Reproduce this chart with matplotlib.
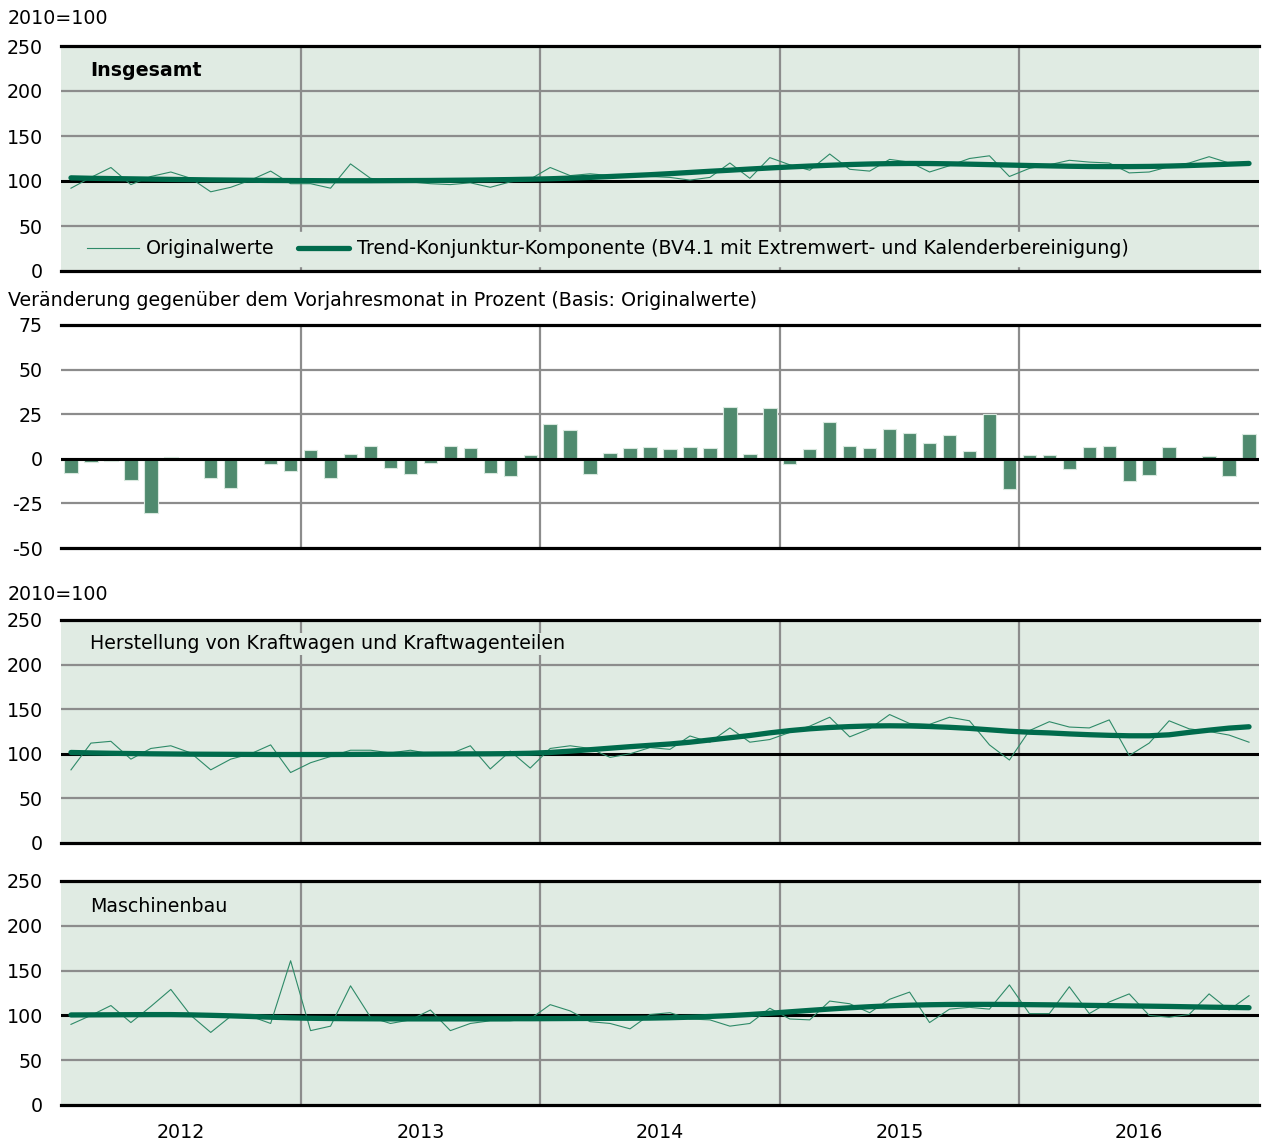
import matplotlib
matplotlib.use("Agg")
import matplotlib.pyplot as plt
from matplotlib.lines import Line2D
import numpy as np

plt.rcParams['font.family'] = ['DejaVu Sans']

years = ['2012', '2013', '2014', '2015', '2016']

orig_total = [
    92, 104, 115, 96, 105, 110, 103, 88, 93, 101, 111, 97,
    97, 92, 119, 103, 100, 99, 97, 96, 98, 93, 99, 102,
    115, 106, 108, 106, 105, 105, 104, 101, 104, 120, 103, 126,
    118, 112, 130, 113, 111, 124, 121, 110, 117, 125, 128, 105,
    114, 118, 123, 121, 120, 109, 110, 116, 120, 127, 120, 119]
trend_total = [
    103.5, 103, 102.7, 102.4, 102.1, 101.8, 101.5, 101.2, 101, 100.8, 100.6, 100.5,
    100.4, 100.3, 100.3, 100.3, 100.4, 100.5, 100.6, 100.8, 101, 101.3, 101.6, 102,
    102.5, 103.2, 104, 105, 106, 107, 108.2, 109.5, 110.8, 112, 113.3, 114.5,
    115.6, 116.6, 117.5, 118.3, 118.9, 119.3, 119.5, 119.4, 119.1, 118.7, 118.2, 117.7,
    117.2, 116.8, 116.4, 116.1, 116, 116, 116.2, 116.6, 117.2, 117.9, 118.7, 119.5]

change_total = [
    -7.8, -1.7, -1.0, -12.0, -30.5, 1.1, 0.0, -10.5, -16.6, 0.0, -3.0, -6.9,
    4.7, -10.8, 2.6, 7.3, -4.9, -8.6, -2.4, 7.3, 6.2, -8.0, -9.7, 2.4,
    19.4, 16.1, -8.6, 3.2, 6.2, 6.5, 5.6, 6.4, 6.2, 29.1, 2.6, 28.6,
    -2.8, 5.4, 20.5, 7.3, 5.8, 16.8, 14.6, 8.6, 13.5, 4.3, 24.9, -17.2,
    2.4, 2.2, -5.6, 6.7, 6.9, -12.3, -9.3, 6.7, 0.0, 1.7, -9.5, 13.8]

orig_kfz = [
    82, 112, 114, 94, 106, 109, 101, 82, 94, 100, 110, 79,
    90, 97, 104, 104, 101, 104, 100, 100, 109, 83, 103, 84,
    106, 109, 106, 96, 100, 107, 105, 120, 113, 129, 113, 116,
    124, 131, 141, 119, 128, 144, 134, 133, 141, 137, 110, 93,
    126, 136, 130, 129, 138, 98, 112, 137, 128, 125, 121, 113]
trend_kfz = [
    101.5, 101, 100.6, 100.3, 100, 99.8, 99.6, 99.5, 99.4, 99.3, 99.2, 99.2,
    99.2, 99.2, 99.3, 99.4, 99.5, 99.6, 99.7, 99.8, 99.9, 100, 100.2, 100.6,
    101.5, 103, 104.6, 106.3, 108, 109.5, 111, 113, 115.5, 118, 120.5, 123.5,
    126, 128, 129.5, 130.5, 131.2, 131.4, 131.2, 130.6, 129.7, 128.5, 126.9, 125.3,
    124.2, 123.4, 122.3, 121.4, 120.7, 120.2, 120.2, 121.3, 124, 126.5, 128.8, 130.3]

orig_masch = [
    90, 100, 111, 92, 110, 129, 100, 81, 99, 99, 91, 161,
    83, 88, 133, 98, 91, 95, 106, 83, 91, 94, 94, 96,
    112, 105, 93, 91, 85, 101, 103, 96, 95, 88, 91, 108,
    96, 95, 116, 113, 103, 118, 126, 92, 107, 109, 107, 134,
    102, 102, 132, 102, 115, 124, 100, 98, 101, 124, 106, 122]
trend_masch = [
    100.5, 100.6, 100.7, 100.8, 100.9, 100.9, 100.6, 100.1, 99.5, 98.8, 98.0, 97.3,
    96.8, 96.5, 96.3, 96.2, 96.1, 96.1, 96.1, 96.1, 96.1, 96.2, 96.3, 96.3,
    96.4, 96.5, 96.6, 96.7, 96.8, 97.0, 97.4, 98.0, 98.8, 99.8, 101.0, 102.4,
    104.0, 105.6, 107.1, 108.5, 109.7, 110.7, 111.4, 111.9, 112.2, 112.3, 112.3, 112.2,
    112.0, 111.8, 111.5, 111.2, 110.9, 110.6, 110.3, 110.0, 109.6, 109.2, 108.9, 108.6]

idx_ticks = [0, 50, 100, 150, 200, 250]
chg_ticks = [-50, -25, 0, 25, 50, 75]

W, H = 1263, 1142
BG = '#e0ebe3'
GRID = '#8c8c8c'
THIN = '#2e8a68'
THICK = '#006b4c'
BAR = '#4f8a6e'
FS = 13.7

fig = plt.figure(figsize=(W / 100, H / 100), dpi=100)


def add_ax(top, bottom):
    return fig.add_axes([61 / W, 1 - bottom / H, 1198 / W, (bottom - top) / H])


x = np.arange(len(orig_total))
year_bounds = [11.5, 23.5, 35.5, 47.5]


def setup(ax, ticks, ref, bg):
    ax.set_facecolor(bg)
    ax.set_xlim(-0.5, 59.5)
    ax.set_ylim(ticks[0], ticks[-1])
    ax.set_yticks(ticks)
    ax.set_yticklabels([str(t) for t in ticks])
    for s in ax.spines.values():
        s.set_visible(False)
    ax.tick_params(axis='y', length=0, pad=13, labelsize=FS)
    ax.tick_params(axis='x', length=0)
    ax.set_xticks([])
    for t in ticks[1:-1]:
        if t != ref:
            ax.axhline(t, color=GRID, lw=1.6, zorder=1)
    for xb in year_bounds:
        ax.axvline(xb, color=GRID, lw=1.6, zorder=1)
    ax.axhline(ticks[0], color='black', lw=2.3, zorder=6, clip_on=False)
    ax.axhline(ticks[-1], color='black', lw=2.3, zorder=6, clip_on=False)
    ax.axhline(ref, color='black', lw=2.2, zorder=2)


# Panel 1
ax1 = add_ax(46, 271)
setup(ax1, idx_ticks, 100, BG)
ax1.plot(x, orig_total, color=THIN, lw=0.8, zorder=3)
ax1.plot(x, trend_total, color=THICK, lw=3.8, zorder=4, solid_capstyle='round')
ax1.text((90 - 61) / 1198, (271 - 71) / 225, 'Insgesamt', transform=ax1.transAxes,
         fontsize=FS, fontweight='bold', va='center', ha='left', zorder=7)
handles = [Line2D([], [], color=THIN, lw=0.8),
           Line2D([], [], color=THICK, lw=3.8, solid_capstyle='round')]
labels = ['Originalwerte',
          'Trend-Konjunktur-Komponente (BV4.1 mit Extremwert- und Kalenderbereinigung)']
leg = ax1.legend(handles, labels, ncol=2, loc='center left',
                 bbox_to_anchor=(0.0155, (271 - 249) / 225), fontsize=FS,
                 frameon=True, fancybox=False, facecolor=BG, edgecolor=BG, framealpha=1,
                 handlelength=2.7, handletextpad=0.4, columnspacing=1.2,
                 borderpad=0.4, borderaxespad=0)
leg.set_zorder(5)

# Panel 2
ax2 = add_ax(325, 548)
setup(ax2, chg_ticks, 0, 'white')
ax2.bar(x, change_total, width=0.67, color=BAR, edgecolor='#d8e8de', linewidth=0.8, zorder=3)
ax2.axhline(0, color='black', lw=2.2, zorder=5)

# Panel 3
ax3 = add_ax(620, 843)
setup(ax3, idx_ticks, 100, BG)
ax3.plot(x, orig_kfz, color=THIN, lw=0.8, zorder=3)
ax3.plot(x, trend_kfz, color=THICK, lw=3.8, zorder=4, solid_capstyle='round')
ax3.text((90 - 61) / 1198, (843 - 644) / 223, 'Herstellung von Kraftwagen und Kraftwagenteilen',
         transform=ax3.transAxes, fontsize=FS, va='center', ha='left', zorder=7,
         bbox=dict(facecolor=BG, edgecolor='none', pad=1))

# Panel 4
ax4 = add_ax(881, 1105)
setup(ax4, idx_ticks, 100, BG)
ax4.plot(x, orig_masch, color=THIN, lw=0.8, zorder=3)
ax4.plot(x, trend_masch, color=THICK, lw=3.8, zorder=4, solid_capstyle='round')
ax4.text((90 - 61) / 1198, (1105 - 906) / 224, 'Maschinenbau',
         transform=ax4.transAxes, fontsize=FS, va='center', ha='left', zorder=7)
ax4.set_xticks([5.5 + 12 * k for k in range(len(years))])
ax4.set_xticklabels(years, fontsize=FS)
ax4.tick_params(axis='x', length=0, pad=13)

fig.text(8 / W, 1 - 18 / H, '2010=100', fontsize=FS, va='center', ha='left')
fig.text(8 / W, 1 - 300 / H,
         'Veränderung gegenüber dem Vorjahresmonat in Prozent (Basis: Originalwerte)',
         fontsize=FS, va='center', ha='left')
fig.text(8 / W, 1 - 595 / H, '2010=100', fontsize=FS, va='center', ha='left')

fig.savefig('out.png', dpi=100)
